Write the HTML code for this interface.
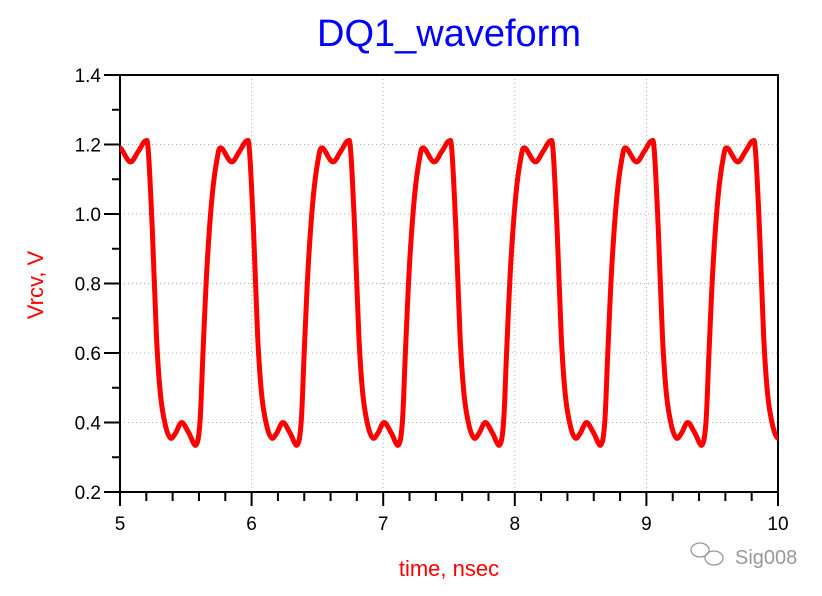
<!DOCTYPE html>
<html><head><meta charset="utf-8"><style>
html,body{margin:0;padding:0;background:#fff;}
svg{display:block;font-family:"Liberation Sans",Arial,sans-serif;}
</style></head><body>
<svg id="s" width="822" height="596" xmlns="http://www.w3.org/2000/svg">
<rect width="822" height="596" fill="#fff"/>
<g id="grid" stroke="#b0b0b0" stroke-width="1" stroke-dasharray="1,3"></g>
<g id="ticks" stroke="#000" stroke-width="2"></g>
<rect x="120" y="75" width="658" height="417" fill="none" stroke="#000" stroke-width="2"/>
<g id="lbl" font-size="19" fill="#000"></g>
<path id="wave" fill="none" stroke="#ff0000" stroke-width="5" stroke-linejoin="round"/>
<text x="449" y="46" font-size="38" fill="#0000ff" text-anchor="middle">DQ1_waveform</text>
<text x="449" y="576" font-size="22" fill="#ff0000" text-anchor="middle">time, nsec</text>
<text transform="translate(43,285) rotate(-90)" font-size="22" fill="#ff0000" text-anchor="middle">Vrcv, V</text>
<g fill="none" stroke="#999" stroke-width="1.3">
<ellipse cx="700" cy="550" rx="9" ry="7"/><ellipse cx="714" cy="558" rx="9" ry="7"/>
</g>
<text x="735" y="564" font-size="20" fill="#999">Sig008</text>
</svg>
<script>
var ns="http://www.w3.org/2000/svg";
function el(p,t,a,txt){var e=document.createElementNS(ns,t);for(var k in a)e.setAttribute(k,a[k]);if(txt!==undefined)e.textContent=txt;document.getElementById(p).appendChild(e);}
var X=function(t){return 120+(t-5)*131.6;}, Y=function(v){return 492-(v-0.2)*347.5;};
for(var i=0;i<=5;i++){var x=X(5+i);
 if(i>0&&i<5)el("grid","line",{x1:x,y1:75,x2:x,y2:492});
 el("ticks","line",{x1:x,y1:492,x2:x,y2:506});
 el("lbl","text",{x:x,y:530,"text-anchor":"middle"},String(5+i));
 if(i<5)for(var j=1;j<5;j++){var xm=X(5+i+j*0.2);el("ticks","line",{x1:xm,y1:492,x2:xm,y2:501});}
}
for(var i=0;i<=6;i++){var v=0.2+i*0.2,y=Y(v);
 if(i>0&&i<6)el("grid","line",{x1:120,y1:y,x2:778,y2:y});
 el("ticks","line",{x1:104,y1:y,x2:120,y2:y});
 el("lbl","text",{x:101,y:y+7,"text-anchor":"end"},v.toFixed(1));
 if(i<6){var ym=Y(v+0.1);el("ticks","line",{x1:112,y1:ym,x2:120,y2:ym});}
}
var base=[[0,1.19],[10,1.15],[18,1.18],[25,1.21],[28,1.18],[32,0.95],[36,0.65],[40,0.48],[45,0.39],[50,0.355],[55,0.37],[61,0.40],[68,0.37],[75,0.335],[79,0.40],[82,0.6],[86,0.85],[91,1.05],[96,1.16]];
var P=101.2,pts=[];
for(var k=-1;k<8;k++)base.forEach(function(b){pts.push([120+k*P+b[0]*P/100,Y(b[1])]);});
var d="";
for(var i=1;i<pts.length-2;i++){var p0=pts[i-1],p1=pts[i],p2=pts[i+1],p3=pts[i+2];
 if(p2[0]<120||p1[0]>778)continue;
 if(d==="")d="M"+p1[0].toFixed(1)+","+p1[1].toFixed(1);
 var c1=[p1[0]+(p2[0]-p0[0])/6,p1[1]+(p2[1]-p0[1])/6],c2=[p2[0]-(p3[0]-p1[0])/6,p2[1]-(p3[1]-p1[1])/6];
 d+="C"+c1.join(",")+" "+c2.join(",")+" "+p2.join(",");}
document.getElementById("wave").setAttribute("d",d);
var cp=document.createElementNS(ns,"clipPath");cp.setAttribute("id","c");
var r=document.createElementNS(ns,"rect");r.setAttribute("x",120);r.setAttribute("y",60);r.setAttribute("width",658);r.setAttribute("height",440);cp.appendChild(r);
document.getElementById("s").appendChild(cp);
document.getElementById("wave").setAttribute("clip-path","url(#c)");
</script>
</body></html>
